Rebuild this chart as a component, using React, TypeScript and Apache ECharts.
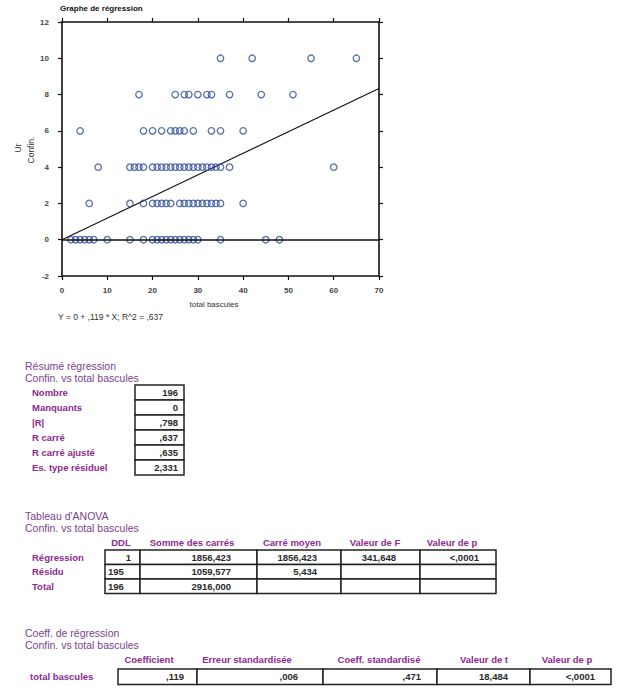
import React, { useEffect, useRef } from "react";
import * as echarts from "echarts";

// ---- scatter data: x values (total bascules) for each Confin. level ----
const confinLevels = [0, 2, 4, 6, 8, 10];
const xAt0 = [2, 3, 4, 5, 6, 7, 10, 15, 18, 20, 21, 22, 23, 24, 25, 26, 27, 28, 29, 30, 35, 45, 48];
const xAt2 = [6, 15, 18, 20, 21, 22, 23, 24, 26, 27, 28, 29, 30, 31, 32, 33, 34, 35, 40];
const xAt4 = [8, 15, 16, 17, 18, 20, 21, 22, 23, 24, 25, 26, 27, 28, 29, 30, 31, 32, 33, 34, 35, 37, 60];
const xAt6 = [4, 18, 20, 22, 24, 25, 26, 27, 29, 33, 35, 40];
const xAt8 = [17, 25, 27, 28, 30, 32, 33, 37, 44, 51];
const xAt10 = [35, 42, 55, 65];
const xByLevel = [xAt0, xAt2, xAt4, xAt6, xAt8, xAt10];

const slope = 0.119;
const xRange = [0, 70];
const yRange = [-2, 12];

// ---- summary table ----
const summaryLabels = ["Nombre", "Manquants", "|R|", "R carré", "R carré ajusté", "Es. type résiduel"];
const summaryValues = ["196", "0", ",798", ",637", ",635", "2,331"];

// ---- ANOVA table ----
const anovaHeaders = ["DDL", "Somme des carrés", "Carré moyen", "Valeur de F", "Valeur de p"];
const anovaRowLabels = ["Régression", "Résidu", "Total"];
const anovaDDL = ["1", "195", "196"];
const anovaSS = ["1856,423", "1059,577", "2916,000"];
const anovaMS = ["1856,423", "5,434", ""];
const anovaF = ["341,648", "", ""];
const anovaP = ["<,0001", "", ""];

// ---- coefficient table ----
const coefHeaders = ["Coefficient", "Erreur standardisée", "Coeff. standardisé", "Valeur de t", "Valeur de p"];
const coefRowLabel = "total bascules";
const coefValues = [",119", ",006", ",471", "18,484", "<,0001"];

const FONT = '"Liberation Sans", Arial, sans-serif';
const PURPLE = "#8d2a8f";
const TPURPLE = "#7a3f8e";
const VAL = "#2a2a2a";

function txt(x: number, y: number, text: string, o: any = {}) {
  const align = o.align || "left";
  return {
    type: "text",
    x,
    y,
    silent: true,
    rotation: o.rotation || 0,
    style: {
      text,
      fill: o.fill || VAL,
      fontSize: o.size || 9.5,
      fontWeight: o.weight || "normal",
      fontFamily: FONT,
      align,
      verticalAlign: "middle",
      textAlign: align,
      textVerticalAlign: "middle",
    },
  };
}

function box(x: number, y: number, w: number, h: number) {
  return {
    type: "rect",
    silent: true,
    shape: { x, y, width: w, height: h },
    style: { fill: "#fff", stroke: "#222", lineWidth: 1.5 },
  };
}

function buildGraphics() {
  const g: any[] = [];
  // chart texts
  g.push(txt(60, 8, "Graphe de régression", { size: 8, weight: "bold", fill: "#111" }));
  g.push(txt(18, 148, "Ur", { size: 8.5, fill: "#333", align: "center", rotation: Math.PI / 2 }));
  g.push(txt(31, 150, "Confin.", { size: 8.5, fill: "#333", align: "center", rotation: Math.PI / 2 }));
  g.push(txt(214, 304, "total bascules", { size: 8, fill: "#333", align: "center" }));
  g.push(txt(58, 317, "Y = 0 + ,119 * X; R^2 = ,637", { size: 8.5, fill: "#333" }));

  // summary block
  g.push(txt(25, 366, "Résumé régression", { size: 10.5, fill: TPURPLE }));
  g.push(txt(25, 378, "Confin. vs total bascules", { size: 10.5, fill: TPURPLE }));
  const sTop = 385, sH = 15;
  summaryLabels.forEach((lab, i) => {
    const y = sTop + i * sH;
    g.push(box(135, y, 49, sH));
    g.push(txt(32, y + sH / 2, lab, { weight: "bold", fill: PURPLE, size: 9.5 }));
    g.push(txt(178, y + sH / 2, summaryValues[i], { weight: "bold", align: "right", size: 9.5 }));
  });

  // ANOVA block
  g.push(txt(25, 516, "Tableau d'ANOVA", { size: 10.5, fill: TPURPLE }));
  g.push(txt(25, 528, "Confin. vs total bascules", { size: 10.5, fill: TPURPLE }));
  const aCols = [105, 140, 257, 341, 420, 496];
  const aHeadC = [121, 192, 292, 375, 452];
  const aRight = [131, 231, 317, 396, 479];
  anovaHeaders.forEach((h, j) => {
    g.push(txt(aHeadC[j], 542, h, { weight: "bold", fill: PURPLE, align: "center", size: 9.5 }));
  });
  const aTop = 550, aH = 14.5;
  const aCells = [anovaDDL, anovaSS, anovaMS, anovaF, anovaP];
  anovaRowLabels.forEach((lab, i) => {
    const y = aTop + i * aH;
    g.push(txt(32, y + aH / 2, lab, { weight: "bold", fill: PURPLE, size: 9.5 }));
    for (let j = 0; j < 5; j++) {
      g.push(box(aCols[j], y, aCols[j + 1] - aCols[j], aH));
    }
    for (let j = 0; j < 5; j++) {
      const v = aCells[j][i];
      if (!v) continue;
      if (j === 0 && v.length > 1) {
        g.push(txt(108, y + aH / 2, v, { weight: "bold", size: 9.5 }));
      } else {
        g.push(txt(aRight[j], y + aH / 2, v, { weight: "bold", align: "right", size: 9.5 }));
      }
    }
  });

  // coefficient block
  g.push(txt(25, 633, "Coeff. de régression", { size: 10.5, fill: TPURPLE }));
  g.push(txt(25, 645, "Confin. vs total bascules", { size: 10.5, fill: TPURPLE }));
  const cCols = [118, 197, 323, 437, 530, 611];
  const cHeadC = [149, 247, 379, 484, 567];
  const cRight = [184, 298, 421, 508, 595];
  coefHeaders.forEach((h, j) => {
    g.push(txt(cHeadC[j], 659, h, { weight: "bold", fill: PURPLE, align: "center", size: 9.5 }));
  });
  const cTop = 669, cH = 15.5;
  g.push(txt(30, cTop + cH / 2, coefRowLabel, { weight: "bold", fill: PURPLE, size: 9.5 }));
  for (let j = 0; j < 5; j++) {
    g.push(box(cCols[j], cTop, cCols[j + 1] - cCols[j], cH));
  }
  coefValues.forEach((v, j) => {
    g.push(txt(cRight[j], cTop + cH / 2, v, { weight: "bold", align: "right", size: 9.5 }));
  });
  return g;
}

export default function App() {
  const ref = useRef<HTMLDivElement>(null);
  useEffect(() => {
    if (!ref.current) return;
    const chart = echarts.init(ref.current, null, { renderer: "svg" });
    const points: number[][] = [];
    xByLevel.forEach((xs, k) => xs.forEach((x) => points.push([x, confinLevels[k]])));

    const axisLine = { onZero: false, lineStyle: { color: "#111", width: 1.6 } };
    const axisTick = { show: true, inside: false, length: 4, lineStyle: { color: "#111", width: 1.2 } };
    const label = { fontSize: 8, fontWeight: "bold", color: "#444", fontFamily: FONT };

    chart.setOption({
      animation: false,
      grid: { left: 62, top: 22, width: 317, height: 254, containLabel: false },
      xAxis: [
        {
          type: "value", min: xRange[0], max: xRange[1], interval: 10, position: "bottom",
          axisLine, axisTick, axisLabel: { ...label, margin: 10 }, splitLine: { show: false },
        },
        {
          type: "value", min: xRange[0], max: xRange[1], interval: 10, position: "top",
          axisLine, axisTick, axisLabel: { show: false }, splitLine: { show: false },
        },
      ],
      yAxis: [
        {
          type: "value", min: yRange[0], max: yRange[1], interval: 2, position: "left",
          axisLine, axisTick, axisLabel: { ...label, margin: 13 }, splitLine: { show: false },
        },
        {
          type: "value", min: yRange[0], max: yRange[1], interval: 2, position: "right",
          axisLine, axisTick, axisLabel: { show: false }, splitLine: { show: false },
        },
      ],
      series: [
        {
          type: "line",
          data: [[xRange[0], xRange[0] * slope], [xRange[1], xRange[1] * slope]],
          symbol: "none",
          lineStyle: { color: "#111", width: 1.1 },
          silent: true,
          z: 1,
          markLine: {
            silent: true,
            symbol: ["none", "none"],
            label: { show: false },
            lineStyle: { color: "#111", width: 1.5, type: "solid" },
            data: [{ yAxis: 0 }],
          },
        },
        {
          type: "scatter",
          data: points,
          symbol: "circle",
          symbolSize: 6.5,
          itemStyle: { color: "rgba(0,0,0,0)", borderColor: "#2d4b9b", borderWidth: 1.3 },
          z: 3,
        },
      ],
      graphic: buildGraphics(),
    });
    return () => chart.dispose();
  }, []);
  return (
    <div
      ref={ref}
      style={{ position: "absolute", left: 0, top: 0, width: 621, height: 697, background: "#fff" }}
    />
  );
}
